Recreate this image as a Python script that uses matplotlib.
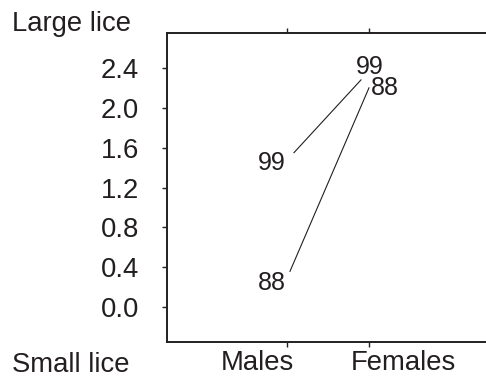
import numpy as np
import matplotlib.pyplot as plt
from matplotlib.transforms import ScaledTranslation

plt.rcParams['font.family'] = ['Liberation Sans', 'DejaVu Sans']

sexes = ['Males', 'Females']
groups = ['99', '88']
males = [1.46, 0.25]      # 99, 88
females = [2.42, 2.21]    # 99, 88
yticks = [0.0, 0.4, 0.8, 1.2, 1.6, 2.0, 2.4]

ink = '#231f20'
W, H = 486, 378
fig = plt.figure(figsize=(W / 100, H / 100), dpi=100)
ax = fig.add_axes([167 / W, 1 - 342 / H, (500 - 167) / W, (342 - 32.5) / H])

xpos = np.arange(1, len(sexes) + 1)
ax.set_xlim(-0.463, 3.598)
ax.set_ylim(-0.348, 2.755)

ax.set_yticks(yticks)
ax.set_yticklabels(['%.1f' % t for t in yticks], fontsize=19.8, color=ink)
ax.set_xticks(xpos)
ax.set_xticklabels(sexes, fontsize=19.8, color=ink)
ax.tick_params(axis='y', direction='out', length=3.6, width=1, color=ink, pad=16.5)
ax.tick_params(axis='x', direction='out', length=3.6, width=1, color=ink, pad=2,
               top=True, labeltop=False)
# nudge category labels sideways like the original
for lab, dx in zip(ax.get_xticklabels(), [-30, 34]):
    lab.set_transform(lab.get_transform() + ScaledTranslation(dx / 100, 0, fig.dpi_scale_trans))

ax.spines['right'].set_visible(False)
for s in ['left', 'top', 'bottom']:
    ax.spines[s].set_linewidth(1.4)
    ax.spines[s].set_color(ink)

# labels as markers
label_dx = {'99': (-15, 1), '88': (-15, 16)}
for i, g in enumerate(groups):
    for x, y, dx in zip(xpos, [males[i], females[i]], label_dx[g]):
        ax.annotate(g, xy=(x, y), xytext=(dx, -1), textcoords='offset pixels',
                    ha='center', va='center', fontsize=18, color=ink)


def shifted(x, y, dx, dy):
    px, py = ax.transData.transform((x, y))
    return ax.transData.inverted().transform((px + dx, py + dy))


# connecting lines, trimmed so they stop short of the labels
line_ends = {'99': ((7, 9), (-8, -14)), '88': ((3, 11), (0, -1))}
for i, g in enumerate(groups):
    a = shifted(xpos[0], males[i], *line_ends[g][0])
    b = shifted(xpos[1], females[i], *line_ends[g][1])
    ax.plot([a[0], b[0]], [a[1], b[1]], color=ink, lw=0.8)

fig.text(12 / W, 1 - 31 / H, 'Large lice', fontsize=19.8, color=ink, va='baseline')
fig.text(12 / W, 1 - 372 / H, 'Small lice', fontsize=19.8, color=ink, va='baseline')

fig.savefig('out.png', dpi=100)
